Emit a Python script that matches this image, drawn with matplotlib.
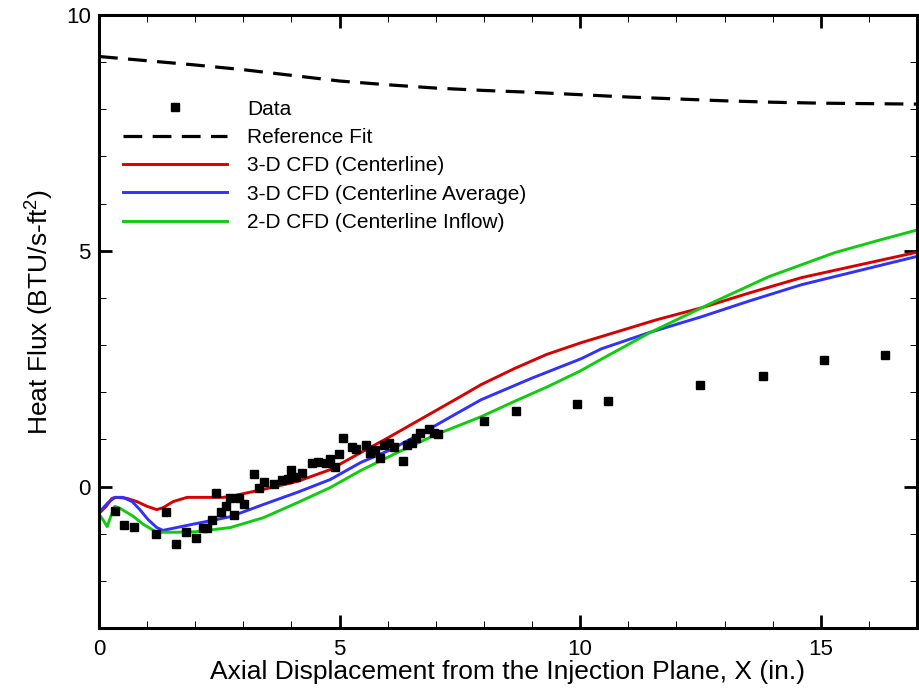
import matplotlib
matplotlib.use("Agg")
import matplotlib.pyplot as plt
from matplotlib.ticker import MultipleLocator

plt.rcParams["font.family"] = ["Liberation Sans", "DejaVu Sans"]
plt.rcParams["mathtext.fontset"] = "custom"
plt.rcParams["mathtext.rm"] = "Liberation Sans"
plt.rcParams["lines.scale_dashes"] = False

# measured data
data_x = [0.33, 0.52, 0.73, 1.19, 1.40, 1.60, 1.81, 2.02, 2.17, 2.25, 2.35, 2.44,
          2.54, 2.63, 2.73, 2.81, 2.92, 3.02, 3.23, 3.32, 3.42, 3.63, 3.81, 3.92,
          4.00, 4.10, 4.22, 4.43, 4.55, 4.71, 4.80, 4.90, 4.98, 5.08, 5.25, 5.35,
          5.54, 5.63, 5.73, 5.83, 5.92, 6.02, 6.13, 6.31, 6.41, 6.50, 6.58, 6.67,
          6.85, 6.96, 7.04, 8.00, 8.67, 9.94, 10.58, 12.50, 13.79, 15.06, 16.33]
data_y = [-0.51, -0.81, -0.85, -1.00, -0.55, -1.21, -0.97, -1.10, -0.87, -0.87, -0.70, -0.13,
          -0.53, -0.42, -0.25, -0.61, -0.25, -0.38, 0.26, -0.04, 0.09, 0.06, 0.13, 0.15,
          0.34, 0.21, 0.28, 0.49, 0.51, 0.49, 0.59, 0.42, 0.70, 1.03, 0.83, 0.80,
          0.87, 0.72, 0.78, 0.61, 0.89, 0.93, 0.83, 0.55, 0.87, 0.93, 1.02, 1.14,
          1.23, 1.14, 1.12, 1.40, 1.61, 1.74, 1.82, 2.16, 2.35, 2.69, 2.78]

# reference fit
ref_x = [0, 1, 2, 3, 4, 5, 6, 7, 8, 9, 10, 11, 12, 13, 14, 15, 16, 17]
ref_y = [9.12, 9.03, 8.94, 8.84, 8.72, 8.60, 8.52, 8.45, 8.40, 8.36, 8.31, 8.26,
         8.22, 8.18, 8.15, 8.13, 8.12, 8.11]

# 3-D CFD (Centerline)
red_x = [0.0, 0.15, 0.27, 0.37, 0.58, 0.79, 1.0, 1.2, 1.33, 1.54, 1.83, 2.58, 2.73,
         3.42, 4.13, 4.81, 5.44, 6.0, 6.5, 7.0, 7.5, 7.94, 8.63, 9.3, 10.02, 10.44,
         11.6, 12.52, 13.5, 14.6, 15.8, 16.96]
red_y = [-0.57, -0.42, -0.25, -0.23, -0.25, -0.32, -0.42, -0.49, -0.45, -0.32, -0.23,
         -0.23, -0.21, -0.06, 0.11, 0.36, 0.72, 1.03, 1.32, 1.61, 1.90, 2.16, 2.50, 2.80,
         3.05, 3.18, 3.54, 3.79, 4.10, 4.43, 4.70, 4.96]

# 3-D CFD (Centerline Average)
blue_x = [0.0, 0.19, 0.33, 0.5, 0.69, 0.85, 1.02, 1.2, 1.33, 1.9, 2.73, 3.42, 4.13,
          4.81, 5.44, 6.06, 6.5, 6.9, 7.4, 7.94, 9.0, 10.02, 10.44, 11.42, 12.52,
          13.5, 14.6, 15.8, 16.96]
blue_y = [-0.55, -0.34, -0.23, -0.23, -0.32, -0.49, -0.70, -0.87, -0.93, -0.81, -0.64,
          -0.38, -0.12, 0.15, 0.51, 0.78, 1.02, 1.24, 1.53, 1.84, 2.30, 2.71, 2.92,
          3.26, 3.60, 3.93, 4.28, 4.58, 4.87]

# 2-D CFD (Centerline Inflow)
green_x = [0.0, 0.08, 0.17, 0.25, 0.33, 0.45, 0.58, 0.71, 0.92, 1.2, 1.6, 2.0, 2.73,
           3.42, 4.13, 4.81, 5.44, 6.2, 7.0, 7.94, 8.6, 9.33, 10.0, 10.44, 11.48,
           12.79, 13.92, 15.29, 16.2, 17.0]
green_y = [-0.59, -0.70, -0.85, -0.62, -0.42, -0.47, -0.55, -0.63, -0.80, -0.97, -0.97,
           -0.96, -0.87, -0.66, -0.34, -0.02, 0.34, 0.72, 1.10, 1.48, 1.79, 2.12, 2.45,
           2.70, 3.28, 3.92, 4.45, 4.96, 5.22, 5.44]

fig = plt.figure(figsize=(9.19, 6.91), dpi=100)
ax = fig.add_axes([0.1077, 0.0912, 0.8901, 0.8871])

ax.plot(data_x, data_y, ls="none", marker="s", ms=6, color="black",
        label="Data", zorder=5)
ax.plot(ref_x, ref_y, color="black", lw=2.3, dashes=(13.5, 7.5), label="Reference Fit")
ax.plot(red_x, red_y, color="#d80000", lw=2.1, label="3-D CFD (Centerline)")
ax.plot(blue_x, blue_y, color="#3030ff", lw=2.1, label="3-D CFD (Centerline Average)")
ax.plot(green_x, green_y, color="#10cc10", lw=2.1, label="2-D CFD (Centerline Inflow)")

ax.set_xlim(0, 17)
ax.set_ylim(-3, 10)
ax.xaxis.set_major_locator(MultipleLocator(5))
ax.xaxis.set_minor_locator(MultipleLocator(1))
ax.yaxis.set_major_locator(MultipleLocator(5))
ax.yaxis.set_minor_locator(MultipleLocator(1))
ax.tick_params(which="both", direction="in", top=True, right=True, labelsize=16)
ax.tick_params(which="major", length=9.4, width=2.0)
ax.tick_params(axis="x", which="major", pad=8)
ax.tick_params(axis="y", which="major", pad=6)
ax.tick_params(which="minor", length=5, width=0.7)
for sp in ax.spines.values():
    sp.set_linewidth(2.2)

ax.set_xlabel("Axial Displacement from the Injection Plane, X (in.)", fontsize=19, labelpad=0)
ax.set_ylabel("Heat Flux (BTU/s-ft$^2$)", fontsize=19, labelpad=8)
ax.yaxis.label.set_y(0.515)

ax.legend(loc="upper left", bbox_to_anchor=(0.0293, 0.862), frameon=False,
          fontsize=15, numpoints=1, handlelength=5.0, handletextpad=0.96,
          labelspacing=0.45, borderpad=0, borderaxespad=0)

fig.savefig("out.png", dpi=100)
